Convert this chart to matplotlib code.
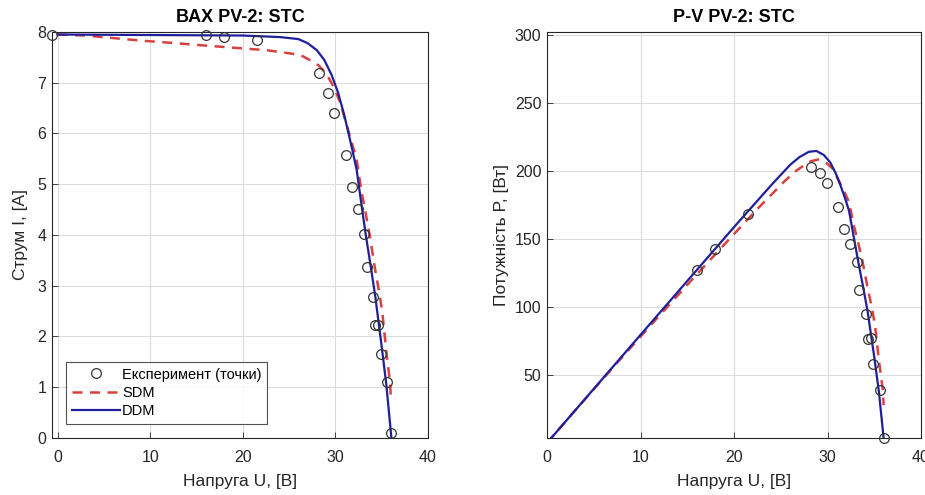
import numpy as np
import matplotlib
matplotlib.use("Agg")
import matplotlib.pyplot as plt

plt.rcParams['font.family'] = ['Liberation Sans', 'DejaVu Sans']

# experiment points (U, I)
exp_u = [-0.6, 16.0, 18.0, 21.5, 28.2, 29.2, 29.9, 31.1, 31.8, 32.4, 33.1,
         33.4, 34.1, 34.3, 34.6, 34.9, 35.6, 36.0]
exp_i = [7.95, 7.95, 7.91, 7.84, 7.19, 6.79, 6.40, 5.58, 4.95, 4.51, 4.01,
         3.36, 2.77, 2.22, 2.22, 1.66, 1.10, 0.09]

# single diode model curve
sdm_u = [0, 3, 6, 9, 12, 15.4, 19, 22.6, 25.4, 26.5, 27.2, 28.2, 29.05, 29.8,
         30.5, 31.2, 31.8, 32.3, 32.8, 33.3, 33.7, 34.3, 34.8, 35.1, 35.5, 35.9, 36.0]
sdm_i = [7.95, 7.93, 7.88, 7.83, 7.79, 7.74, 7.69, 7.64, 7.57, 7.52, 7.45, 7.34,
         7.17, 6.92, 6.62, 6.18, 5.80, 5.48, 4.88, 4.40, 4.00, 3.31, 2.80, 2.42,
         1.70, 1.10, 0.77]

# double diode model curve
ddm_u = [0, 10, 20, 24, 26, 27, 28, 28.8, 29.6, 30.3, 30.9, 31.4, 31.9, 32.3,
         32.8, 33.3, 33.8, 34.3, 35.0, 35.5, 36.05]
ddm_i = [7.95, 7.94, 7.93, 7.90, 7.86, 7.78, 7.64, 7.45, 7.15, 6.80, 6.40, 6.02,
         5.62, 5.28, 4.62, 3.98, 3.40, 2.80, 1.80, 1.05, 0.0]

exp_u = np.array(exp_u); exp_i = np.array(exp_i)
sdm_u = np.array(sdm_u); sdm_i = np.array(sdm_i)
ddm_u = np.array(ddm_u); ddm_i = np.array(ddm_i)

red = '#d9413f'
blue = '#1f1f9c'
txt = '#262626'

fig = plt.figure(figsize=(9.25, 4.95), dpi=100)
ax1 = fig.add_axes([0.0562, 0.1152, 0.4065, 0.8202])
ax2 = fig.add_axes([0.5914, 0.1152, 0.4043, 0.8202])


def style(ax):
    ax.grid(True, color='#dcdcdc', linewidth=0.8)
    ax.set_axisbelow(True)
    ax.tick_params(direction='in', length=4, labelsize=11.5, colors=txt, width=0.6)
    ax.tick_params(axis='x', pad=9)
    ax.tick_params(axis='y', pad=4)
    for s in ax.spines.values():
        s.set_color(txt)
        s.set_linewidth(0.8)


# I-V
ax1.plot(exp_u, exp_i, 'o', mfc='none', mec='#333333', ms=7, mew=0.9,
         label='Експеримент (точки)', clip_on=False, zorder=4)
ax1.plot(sdm_u, sdm_i, '--', color=red, lw=1.8, dashes=(4, 3), label='SDM', zorder=3)
ax1.plot(ddm_u, ddm_i, '-', color=blue, lw=1.6, label='DDM', zorder=3)
ax1.set_xlim(-0.6, 40)
ax1.set_ylim(0, 8)
ax1.set_xticks([0, 10, 20, 30, 40])
ax1.set_yticks(range(0, 9))
style(ax1)
ax1.set_title('ВАХ PV-2: STC', fontsize=13, fontweight='bold', pad=7)
ax1.set_xlabel('Напруга U, [В]', fontsize=12.5, color=txt, labelpad=6)
ax1.set_ylabel('Струм I, [А]', fontsize=12.5, color=txt, labelpad=7)
leg = ax1.legend(loc='lower left', fontsize=10.5, frameon=True, fancybox=False,
                 edgecolor=txt, handlelength=3.3, borderaxespad=0.95,
                 handletextpad=0.15, labelspacing=0.3, borderpad=0.4)
leg.get_frame().set_linewidth(0.8)

# P-V (negative powers fall outside the axes, as in the original)
pos = exp_u >= 0
ax2.plot(exp_u[pos], exp_u[pos] * exp_i[pos], 'o', mfc='none', mec='#333333',
         ms=7, mew=0.9, clip_on=False, zorder=4)
ax2.plot(sdm_u, sdm_u * sdm_i, '--', color=red, lw=1.8, dashes=(4, 3), zorder=3)
ax2.plot(ddm_u, ddm_u * ddm_i, '-', color=blue, lw=1.6, zorder=3)
ax2.set_xlim(0, 40)
ax2.set_ylim(3.6, 302)
ax2.set_xticks([0, 10, 20, 30, 40])
ax2.set_yticks([50, 100, 150, 200, 250, 300])
style(ax2)
ax2.set_title('P-V PV-2: STC', fontsize=13, fontweight='bold', pad=7)
ax2.set_xlabel('Напруга U, [В]', fontsize=12.5, color=txt, labelpad=6)
ax2.set_ylabel('Потужність P, [Вт]', fontsize=12.5, color=txt, labelpad=4)

fig.savefig('out.png', dpi=100, facecolor='white')
